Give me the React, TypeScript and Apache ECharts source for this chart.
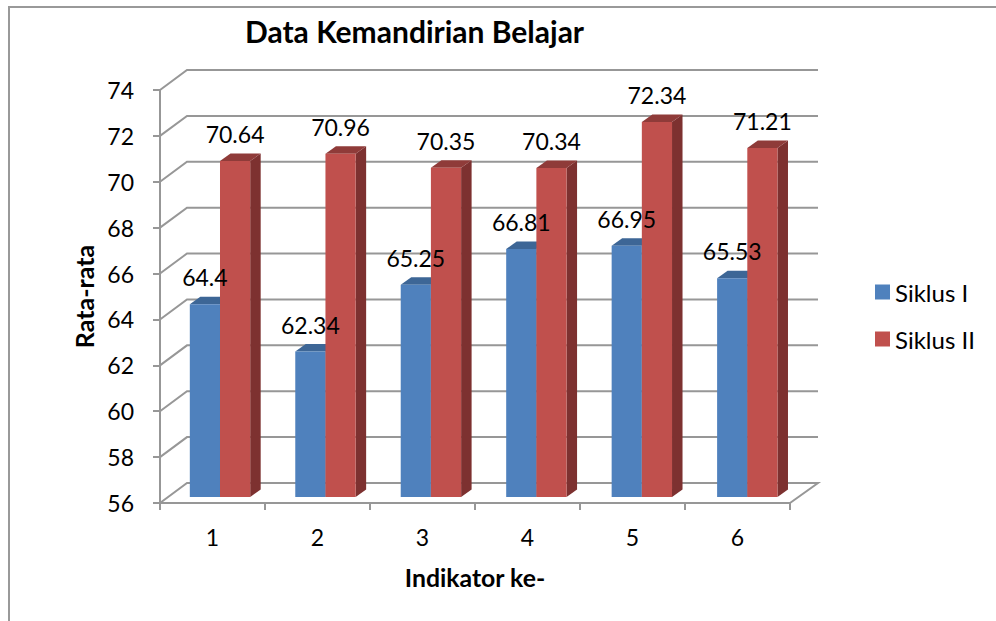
import React, { useEffect, useRef } from "react";
import * as echarts from "echarts";

const categories = ["1", "2", "3", "4", "5", "6"];
const siklus1 = [64.4, 62.34, 65.25, 66.81, 66.95, 65.53];
const siklus2 = [70.64, 70.96, 70.35, 70.34, 72.34, 71.21];
const yTicks = [56, 58, 60, 62, 64, 66, 68, 70, 72, 74];
const FONT = "Lato, Carlito, Calibri, sans-serif";
const WALL_DX = 27;
const WALL_DY = 20;
const GRID_COLOR = "#979797";

function barRenderer(slot: number, front: string, side: string, top: string) {
  return (params: any, api: any) => {
    const idx = api.value(0);
    const val = api.value(1);
    const band = api.size([1, 0])[0];
    const w = band * 0.2875;
    const c = api.coord([idx, val]);
    const b = api.coord([idx, 56]);
    const x = c[0] + band * 0.0714 + idx * 0.46 + (slot - 1) * w;
    const yTop = c[1] - 6;
    const yBase = b[1] - 6;
    const dx = 10.5;
    const dy = 7.5;
    return {
      type: "group",
      children: [
        { type: "polygon", shape: { points: [[x + w, yTop], [x + w + dx, yTop - dy], [x + w + dx, yBase - dy], [x + w, yBase]] }, style: { fill: side } },
        { type: "polygon", shape: { points: [[x, yTop], [x + dx, yTop - dy], [x + w + dx, yTop - dy], [x + w, yTop]] }, style: { fill: top } },
        { type: "rect", shape: { x, y: yTop, width: w, height: yBase - yTop }, style: { fill: front } },
        {
          type: "text",
          z2: 100,
          style: {
            text: String(val),
            x: x + w / 2,
            y: yTop - 27,
            align: "center",
            verticalAlign: "middle",
            font: `23px ${FONT}`,
            fill: "#000",
          },
        },
      ],
    };
  };
}

export default function App() {
  const ref = useRef<HTMLDivElement>(null);
  useEffect(() => {
    const chart = echarts.init(ref.current!, undefined, { renderer: "svg" });
    chart.setOption({
      animation: false,
      backgroundColor: "#fff",
      title: {
        text: "Data Kemandirian Belajar",
        left: 240,
        top: 11,
        textStyle: { fontFamily: FONT, fontSize: 30, fontWeight: "bold", color: "#000" },
      },
      legend: {
        left: 870,
        top: 275,
        orient: "vertical",
        itemWidth: 15,
        itemHeight: 15,
        itemGap: 23,
        icon: "rect",
        data: ["Siklus I", "Siklus II"],
        textStyle: { fontFamily: FONT, fontSize: 24, color: "#000" },
      },
      graphic: [
        { type: "polyline", shape: { points: [[9, 621], [9, 7], [996, 7]] }, style: { stroke: "#999", lineWidth: 2, fill: "none" } },
      ],
      grid: { left: 160, top: 90, width: 630, height: 413 },
      xAxis: {
        type: "category",
        data: categories,
        name: "Indikator ke-",
        nameLocation: "middle",
        nameGap: 62,
        nameTextStyle: { fontFamily: FONT, fontSize: 24.8, fontWeight: "bold", color: "#000" },
        axisLine: { lineStyle: { color: GRID_COLOR, width: 2 } },
        axisTick: { show: true, length: 7, alignWithLabel: false, lineStyle: { color: GRID_COLOR, width: 2 } },
        axisLabel: { fontFamily: FONT, fontSize: 23, color: "#000", margin: 22 },
        splitLine: { show: false },
      },
      yAxis: {
        type: "value",
        min: 56,
        max: 74,
        interval: 2,
        name: "Rata-rata",
        nameLocation: "middle",
        nameGap: 64,
        nameRotate: 90,
        nameTextStyle: { fontFamily: FONT, fontSize: 25, fontWeight: "bold", color: "#000" },
        axisLine: { show: true, lineStyle: { color: GRID_COLOR, width: 2 } },
        axisTick: { show: true, length: 7, lineStyle: { color: GRID_COLOR, width: 2 } },
        axisLabel: { fontFamily: FONT, fontSize: 23, color: "#000", margin: 26 },
        splitLine: { show: false },
      },
      series: [
        {
          name: "walls",
          type: "custom",
          silent: true,
          clip: false,
          data: yTicks.map((t) => [0, t]),
          encode: { x: 0, y: 1 },
          renderItem: (params: any, api: any) => {
            const t = api.value(1);
            const y = api.coord([0, t])[1];
            const cs = params.coordSys;
            const pts: number[][] = [[cs.x, y], [cs.x + WALL_DX, y - WALL_DY], [cs.x + cs.width + WALL_DX + 1, y - WALL_DY]];
            if (t === yTicks[0]) pts.push([cs.x + cs.width, y]);
            return { type: "polyline", shape: { points: pts }, style: { stroke: GRID_COLOR, lineWidth: 2, fill: "none" } };
          },
        },
        {
          name: "Siklus I",
          type: "custom",
          clip: false,
          itemStyle: { color: "#4f81bd" },
          data: siklus1.map((v, i) => [i, v]),
          encode: { x: 0, y: 1 },
          renderItem: barRenderer(0, "#4f81bd", "#3a6290", "#3d6696"),
        },
        {
          name: "Siklus II",
          type: "custom",
          clip: false,
          itemStyle: { color: "#c0504d" },
          data: siklus2.map((v, i) => [i, v]),
          encode: { x: 0, y: 1 },
          renderItem: barRenderer(1, "#c0504d", "#7d3130", "#8f3b39"),
        },
      ],
    });
    return () => chart.dispose();
  }, []);
  return <div ref={ref} style={{ position: "absolute", left: 0, top: 0, width: 996, height: 621 }} />;
}
